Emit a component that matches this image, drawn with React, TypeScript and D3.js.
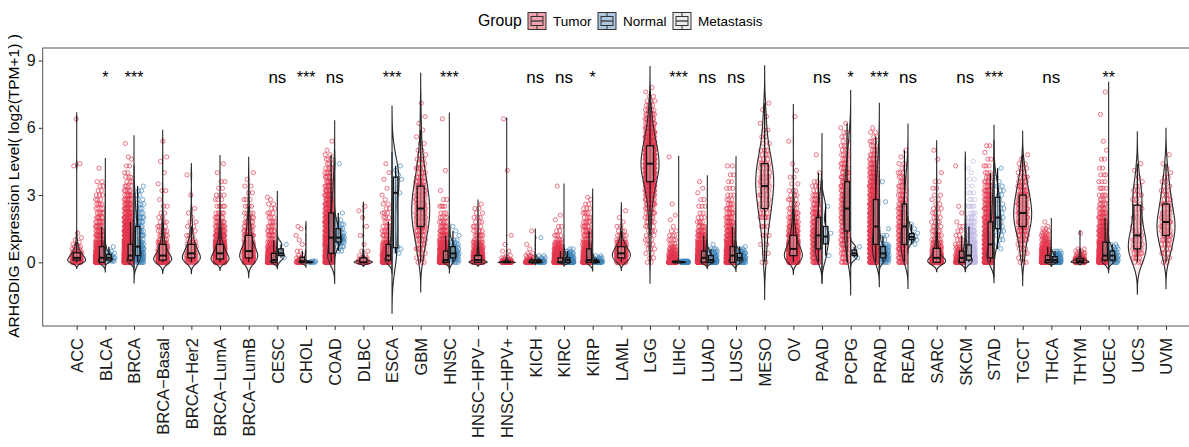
import React, { useRef, useEffect } from "react";
import * as d3 from "d3";

// each bin is [log2(TPM+1), number of samples at that value]
type Bin = [number, number];

const cancers = [
  "ACC", "BLCA", "BRCA", "BRCA−Basal", "BRCA−Her2", "BRCA−LumA", "BRCA−LumB", "CESC", "CHOL", "COAD",
  "DLBC", "ESCA", "GBM", "HNSC", "HNSC−HPV−", "HNSC−HPV+", "KICH", "KIRC", "KIRP", "LAML",
  "LGG", "LIHC", "LUAD", "LUSC", "MESO", "OV", "PAAD", "PCPG", "PRAD", "READ",
  "SARC", "SKCM", "STAD", "TGCT", "THCA", "THYM", "UCEC", "UCS", "UVM",
];

const tumorBins: Bin[][] = [
  // ACC
  [[0, 14], [0.1, 16], [0.2, 12], [0.3, 10], [0.4, 8], [0.5, 5], [0.6, 3], [0.7, 3], [0.8, 2], [0.9, 1], [1.0, 1], [1.1, 1], [1.3, 1], [4.3, 1], [4.4, 1], [6.4, 1]],
  // BLCA
  [[0, 110], [0.1, 60], [0.2, 40], [0.3, 30], [0.4, 22], [0.5, 18], [0.6, 15], [0.7, 12], [0.8, 10], [0.9, 8], [1.0, 8], [1.2, 12], [1.4, 10], [1.6, 8], [1.8, 7], [2.0, 6], [2.2, 5], [2.4, 4], [2.6, 4], [2.8, 3], [3.0, 3], [3.2, 2], [3.4, 2], [3.6, 2], [4.2, 1]],
  // BRCA
  [[0, 220], [0.1, 160], [0.2, 120], [0.3, 90], [0.4, 70], [0.5, 55], [0.6, 45], [0.7, 40], [0.8, 35], [0.9, 30], [1.0, 26], [1.2, 40], [1.4, 35], [1.6, 28], [1.8, 22], [2.0, 18], [2.2, 14], [2.4, 12], [2.6, 10], [2.8, 8], [3.0, 7], [3.2, 5], [3.4, 4], [3.6, 3], [3.8, 3], [4.0, 2], [4.3, 2], [4.6, 1], [4.7, 1], [5.3, 1]],
  // BRCA-Basal
  [[0, 30], [0.1, 30], [0.2, 25], [0.3, 18], [0.4, 14], [0.5, 11], [0.6, 9], [0.7, 8], [0.8, 7], [0.9, 6], [1.0, 5], [1.2, 6], [1.4, 5], [1.6, 4], [1.8, 3], [2.0, 2], [2.2, 2], [2.5, 2], [2.8, 1], [3.2, 2], [3.5, 1], [4.0, 1], [4.5, 1], [4.7, 1], [5.4, 1]],
  // BRCA-Her2
  [[0, 8], [0.1, 9], [0.2, 10], [0.3, 8], [0.4, 7], [0.5, 6], [0.6, 5], [0.7, 4], [0.8, 4], [0.9, 3], [1.0, 3], [1.2, 3], [1.4, 2], [1.6, 2], [1.8, 2], [2.0, 1], [2.2, 1], [2.4, 1], [3.0, 1], [3.9, 1]],
  // BRCA-LumA
  [[0, 70], [0.1, 75], [0.2, 70], [0.3, 60], [0.4, 50], [0.5, 42], [0.6, 35], [0.7, 30], [0.8, 25], [0.9, 20], [1.0, 17], [1.2, 22], [1.4, 15], [1.6, 12], [1.8, 8], [2.0, 6], [2.2, 5], [2.5, 5], [2.8, 3], [3.0, 3], [3.3, 2], [3.6, 2], [4.0, 1], [4.4, 1]],
  // BRCA-LumB
  [[0, 18], [0.1, 20], [0.2, 22], [0.3, 20], [0.4, 18], [0.5, 15], [0.6, 13], [0.7, 11], [0.8, 10], [0.9, 9], [1.0, 8], [1.2, 12], [1.4, 9], [1.6, 7], [1.8, 6], [2.0, 5], [2.2, 4], [2.5, 4], [2.8, 3], [3.1, 2], [3.4, 2], [3.7, 1], [4.0, 1]],
  // CESC
  [[0, 120], [0.1, 55], [0.2, 32], [0.3, 20], [0.4, 15], [0.5, 12], [0.6, 10], [0.7, 8], [0.8, 6], [0.9, 5], [1.0, 5], [1.2, 7], [1.4, 6], [1.6, 5], [1.8, 4], [2.0, 3], [2.2, 3], [2.4, 2], [2.6, 2], [2.8, 1], [2.9, 1]],
  // CHOL
  [[0, 14], [0.05, 6], [0.1, 4], [0.2, 3], [0.3, 2], [0.5, 2], [0.8, 1], [1.0, 1], [1.2, 1], [1.5, 1], [1.6, 1]],
  // COAD
  [[0, 40], [0.1, 25], [0.2, 20], [0.3, 18], [0.4, 17], [0.5, 16], [0.6, 16], [0.7, 16], [0.8, 16], [0.9, 16], [1.0, 16], [1.1, 15], [1.2, 15], [1.4, 28], [1.6, 26], [1.8, 22], [2.0, 20], [2.2, 18], [2.4, 16], [2.6, 14], [2.8, 12], [3.0, 10], [3.2, 9], [3.4, 8], [3.6, 7], [3.8, 6], [4.0, 5], [4.2, 4], [4.4, 3], [4.6, 3], [4.8, 2], [5.0, 1], [5.4, 1]],
  // DLBC
  [[0, 25], [0.05, 6], [0.1, 4], [0.2, 3], [0.3, 2], [0.5, 2], [0.8, 1], [1.2, 1], [1.6, 1], [2.0, 1], [2.3, 1], [2.5, 1]],
  // ESCA
  [[0, 35], [0.1, 25], [0.2, 20], [0.3, 15], [0.4, 12], [0.5, 10], [0.6, 8], [0.7, 7], [0.8, 6], [0.9, 5], [1.0, 5], [1.2, 6], [1.4, 5], [1.6, 4], [1.8, 3], [2.0, 3], [2.2, 3], [2.4, 2], [2.6, 2], [2.8, 1], [3.0, 1], [3.3, 1], [3.7, 1], [4.0, 1], [4.4, 1]],
  // GBM
  [[0, 3], [0.2, 3], [0.4, 3], [0.6, 4], [0.8, 4], [1.0, 5], [1.2, 6], [1.4, 7], [1.6, 8], [1.8, 8], [2.0, 9], [2.2, 9], [2.4, 9], [2.6, 9], [2.8, 8], [3.0, 8], [3.2, 7], [3.4, 7], [3.6, 6], [3.8, 5], [4.0, 4], [4.2, 4], [4.4, 3], [4.6, 3], [4.8, 2], [5.0, 2], [5.3, 2], [5.6, 1], [5.9, 1], [6.2, 1], [6.5, 1], [7.1, 1]],
  // HNSC
  [[0, 192], [0.1, 80], [0.2, 50], [0.3, 35], [0.4, 28], [0.5, 22], [0.6, 18], [0.7, 15], [0.8, 12], [0.9, 10], [1.0, 9], [1.2, 12], [1.4, 9], [1.6, 7], [1.8, 5], [2.0, 4], [2.2, 3], [2.5, 4], [2.8, 2], [3.2, 1], [4.1, 1], [6.4, 1]],
  // HNSC-HPV-
  [[0, 190], [0.1, 70], [0.2, 40], [0.3, 25], [0.4, 18], [0.5, 14], [0.6, 11], [0.7, 9], [0.8, 7], [0.9, 6], [1.0, 5], [1.2, 7], [1.4, 5], [1.6, 4], [1.8, 3], [2.0, 3], [2.2, 2], [2.4, 2], [2.6, 1]],
  // HNSC-HPV+
  [[0, 45], [0.02, 18], [0.04, 12], [0.08, 8], [0.12, 5], [0.2, 3], [0.3, 2], [0.5, 2], [0.8, 1], [1.2, 1], [4.1, 1], [6.4, 1]],
  // KICH
  [[0, 40], [0.05, 8], [0.1, 6], [0.2, 4], [0.3, 3], [0.4, 2], [0.6, 1], [0.8, 1], [1.4, 1]],
  // KIRC
  [[0, 300], [0.1, 80], [0.2, 45], [0.3, 30], [0.4, 20], [0.5, 15], [0.6, 10], [0.7, 8], [0.8, 6], [0.9, 4], [1.0, 4], [1.2, 4], [1.4, 2], [1.6, 2], [1.9, 1], [2.1, 1], [3.4, 1]],
  // KIRP
  [[0, 110], [0.1, 35], [0.2, 25], [0.3, 18], [0.4, 14], [0.5, 11], [0.6, 9], [0.7, 8], [0.8, 7], [0.9, 6], [1.0, 5], [1.2, 8], [1.4, 7], [1.6, 6], [1.8, 5], [2.0, 4], [2.2, 4], [2.4, 3], [2.6, 2], [2.8, 1], [2.9, 1]],
  // LAML
  [[0, 14], [0.1, 16], [0.2, 20], [0.3, 22], [0.4, 22], [0.5, 18], [0.6, 15], [0.7, 12], [0.8, 9], [0.9, 7], [1.0, 5], [1.2, 5], [1.4, 3], [1.6, 2], [1.8, 1], [2.0, 1], [2.3, 1]],
  // LGG
  [[0, 2], [0.2, 2], [0.4, 2], [0.6, 3], [0.8, 3], [1.0, 3], [1.2, 3], [1.4, 4], [1.6, 4], [1.8, 5], [2.0, 5], [2.2, 6], [2.4, 7], [2.6, 9], [2.8, 11], [3.0, 13], [3.2, 16], [3.4, 20], [3.6, 24], [3.8, 28], [4.0, 31], [4.2, 33], [4.4, 34], [4.6, 33], [4.8, 31], [5.0, 28], [5.2, 25], [5.4, 22], [5.6, 18], [5.8, 15], [6.0, 12], [6.2, 10], [6.4, 8], [6.6, 7], [6.8, 5], [7.0, 4], [7.2, 3], [7.4, 2], [7.6, 1], [7.8, 1]],
  // LIHC
  [[0, 250], [0.05, 30], [0.1, 20], [0.2, 15], [0.3, 12], [0.4, 9], [0.5, 7], [0.6, 5], [0.7, 4], [0.8, 3], [1.0, 4], [1.2, 3], [1.4, 2], [1.6, 1], [1.9, 1], [2.1, 1], [2.6, 1], [4.7, 1]],
  // LUAD
  [[0, 170], [0.1, 80], [0.2, 55], [0.3, 40], [0.4, 30], [0.5, 25], [0.6, 20], [0.7, 16], [0.8, 13], [0.9, 11], [1.0, 9], [1.2, 14], [1.4, 9], [1.6, 6], [1.8, 4], [2.0, 3], [2.2, 2], [2.5, 3], [2.8, 2], [3.1, 1], [3.3, 1], [3.6, 1]],
  // LUSC
  [[0, 140], [0.1, 60], [0.2, 45], [0.3, 35], [0.4, 30], [0.5, 25], [0.6, 21], [0.7, 18], [0.8, 15], [0.9, 13], [1.0, 11], [1.2, 17], [1.4, 13], [1.6, 10], [1.8, 8], [2.0, 7], [2.2, 6], [2.4, 5], [2.6, 4], [2.8, 3], [3.0, 3], [3.3, 3], [3.6, 2], [3.9, 2], [4.3, 2]],
  // MESO
  [[0, 2], [0.4, 2], [0.8, 2], [1.2, 3], [1.6, 3], [2.0, 5], [2.2, 3], [2.4, 3], [2.6, 3], [2.8, 4], [3.0, 4], [3.2, 4], [3.4, 5], [3.6, 5], [3.8, 5], [4.0, 4], [4.2, 4], [4.4, 4], [4.6, 3], [4.8, 3], [5.0, 3], [5.3, 2], [5.6, 2], [5.9, 2], [6.2, 1], [6.5, 1], [6.8, 1], [7.1, 1]],
  // OV
  [[0, 30], [0.1, 35], [0.2, 38], [0.3, 38], [0.4, 35], [0.5, 32], [0.6, 28], [0.7, 25], [0.8, 22], [0.9, 19], [1.0, 16], [1.2, 24], [1.4, 18], [1.6, 14], [1.8, 10], [2.0, 8], [2.2, 6], [2.4, 5], [2.6, 4], [2.8, 4], [3.0, 3], [3.2, 3], [3.5, 2], [3.8, 2], [4.1, 1], [4.4, 1], [5.4, 1], [6.5, 1]],
  // PAAD
  [[0, 12], [0.2, 12], [0.4, 13], [0.6, 14], [0.8, 14], [1.0, 14], [1.2, 13], [1.4, 12], [1.6, 11], [1.8, 10], [2.0, 9], [2.2, 8], [2.4, 7], [2.6, 6], [2.8, 5], [3.0, 4], [3.2, 3], [3.4, 3], [3.6, 2], [4.0, 1], [4.8, 1]],
  // PCPG
  [[0, 6], [0.2, 5], [0.4, 5], [0.6, 6], [0.8, 6], [1.0, 7], [1.2, 7], [1.4, 8], [1.6, 8], [1.8, 8], [2.0, 8], [2.2, 8], [2.4, 8], [2.6, 8], [2.8, 8], [3.0, 8], [3.2, 7], [3.4, 7], [3.6, 7], [3.8, 6], [4.0, 6], [4.2, 5], [4.4, 5], [4.6, 4], [4.8, 4], [5.0, 3], [5.2, 3], [5.4, 2], [5.6, 2], [5.8, 2], [6.0, 1], [6.2, 1]],
  // PRAD
  [[0, 30], [0.2, 28], [0.4, 30], [0.6, 32], [0.8, 32], [1.0, 30], [1.2, 28], [1.4, 26], [1.6, 24], [1.8, 23], [2.0, 22], [2.2, 20], [2.4, 19], [2.6, 18], [2.8, 17], [3.0, 16], [3.2, 15], [3.4, 14], [3.6, 13], [3.8, 11], [4.0, 10], [4.2, 8], [4.4, 7], [4.6, 6], [4.8, 5], [5.0, 4], [5.2, 3], [5.4, 3], [5.6, 2], [5.8, 2], [6.0, 1]],
  // READ
  [[0, 10], [0.2, 9], [0.4, 10], [0.6, 11], [0.8, 11], [1.0, 11], [1.2, 10], [1.4, 10], [1.6, 9], [1.8, 9], [2.0, 8], [2.2, 8], [2.4, 7], [2.6, 6], [2.8, 6], [3.0, 5], [3.2, 5], [3.4, 4], [3.6, 4], [3.8, 3], [4.0, 3], [4.2, 2], [4.4, 2], [4.7, 1], [5.0, 1]],
  // SARC
  [[0, 80], [0.1, 35], [0.2, 25], [0.3, 18], [0.4, 14], [0.5, 11], [0.6, 9], [0.7, 7], [0.8, 6], [0.9, 5], [1.0, 5], [1.2, 6], [1.4, 5], [1.6, 4], [1.8, 4], [2.0, 3], [2.2, 3], [2.4, 3], [2.6, 2], [2.8, 2], [3.0, 2], [3.3, 2], [3.6, 2], [4.0, 1], [4.6, 1], [5.0, 1]],
  // SKCM
  [[0, 35], [0.1, 15], [0.2, 10], [0.3, 8], [0.4, 6], [0.5, 5], [0.6, 4], [0.7, 3], [0.8, 3], [1.0, 3], [1.2, 2], [1.4, 2], [1.6, 2], [1.8, 1], [2.2, 1], [2.5, 1], [4.3, 1]],
  // STAD
  [[0, 60], [0.2, 48], [0.4, 42], [0.6, 36], [0.8, 31], [1.0, 27], [1.2, 23], [1.4, 20], [1.6, 18], [1.8, 16], [2.0, 14], [2.2, 12], [2.4, 11], [2.6, 10], [2.8, 9], [3.0, 8], [3.2, 7], [3.4, 6], [3.6, 5], [3.8, 4], [4.0, 3], [4.3, 3], [4.6, 2], [4.9, 1], [5.2, 2]],
  // TGCT
  [[0, 3], [0.2, 2], [0.4, 3], [0.6, 3], [0.8, 4], [1.0, 5], [1.2, 6], [1.4, 8], [1.6, 9], [1.8, 10], [2.0, 11], [2.2, 11], [2.4, 10], [2.6, 10], [2.8, 9], [3.0, 8], [3.2, 7], [3.4, 6], [3.6, 5], [3.8, 4], [4.0, 3], [4.2, 3], [4.4, 2], [4.6, 1], [4.8, 1]],
  // THCA
  [[0, 230], [0.1, 90], [0.2, 55], [0.3, 35], [0.4, 25], [0.5, 18], [0.6, 13], [0.7, 10], [0.8, 8], [0.9, 6], [1.0, 5], [1.1, 4], [1.2, 4], [1.3, 3], [1.4, 2], [1.5, 2], [1.6, 1], [1.8, 1]],
  // THYM
  [[0, 40], [0.05, 25], [0.1, 18], [0.15, 12], [0.2, 8], [0.3, 6], [0.4, 4], [0.5, 3], [0.6, 2], [1.3, 1]],
  // UCEC
  [[0, 120], [0.1, 65], [0.2, 50], [0.3, 40], [0.4, 33], [0.5, 27], [0.6, 23], [0.7, 20], [0.8, 18], [0.9, 16], [1.0, 14], [1.2, 22], [1.4, 18], [1.6, 14], [1.8, 11], [2.0, 9], [2.2, 8], [2.4, 6], [2.6, 5], [2.8, 4], [3.0, 4], [3.3, 4], [3.6, 3], [3.9, 3], [4.2, 2], [4.6, 2], [5.0, 1], [5.4, 1], [6.6, 1], [7.6, 1]],
  // UCS
  [[0, 3], [0.2, 4], [0.4, 5], [0.6, 5], [0.8, 5], [1.0, 4], [1.2, 4], [1.4, 3], [1.6, 2], [1.8, 2], [2.0, 2], [2.2, 2], [2.4, 2], [2.6, 2], [2.8, 2], [3.0, 3], [3.2, 2], [3.4, 2], [3.6, 1], [3.8, 1], [4.1, 1], [4.4, 1]],
  // UVM
  [[0, 2], [0.2, 2], [0.4, 3], [0.6, 3], [0.8, 4], [1.0, 5], [1.2, 5], [1.4, 6], [1.6, 6], [1.8, 6], [2.0, 5], [2.2, 5], [2.4, 4], [2.6, 4], [2.8, 3], [3.0, 3], [3.2, 3], [3.4, 2], [3.6, 2], [3.8, 2], [4.0, 1], [4.2, 1], [4.4, 1], [4.8, 1]],
];

// normal tissue, same order as cancers (null = no normal samples)
const normalBins: (Bin[] | null)[] = [
  null,
  [[0.05, 3], [0.1, 4], [0.2, 4], [0.3, 3], [0.4, 2], [0.5, 2], [0.7, 1]],
  [[0, 8], [0.1, 8], [0.2, 9], [0.3, 9], [0.4, 8], [0.5, 7], [0.6, 6], [0.7, 5], [0.8, 5], [0.9, 4], [1.0, 4], [1.2, 6], [1.4, 6], [1.6, 6], [1.8, 5], [2.0, 5], [2.2, 4], [2.4, 3], [2.6, 3], [2.8, 2], [3.0, 2], [3.2, 2], [3.4, 1]],
  null, null, null, null,
  [[0.2, 1], [0.4, 1], [0.8, 1]],
  [[0, 5], [0.03, 2], [0.06, 2]],
  [[0.5, 2], [0.7, 4], [0.9, 6], [1.0, 5], [1.1, 5], [1.2, 4], [1.3, 3], [1.5, 4], [1.7, 4], [1.9, 2], [2.2, 1], [4.4, 1]],
  null,
  [[0.4, 1], [0.5, 1], [0.6, 1], [0.7, 1], [2.8, 1], [3.1, 1], [3.3, 1], [3.7, 1], [3.9, 1], [4.1, 1], [4.3, 1]],
  null,
  [[0, 4], [0.1, 4], [0.2, 5], [0.3, 5], [0.4, 5], [0.5, 4], [0.6, 4], [0.7, 3], [0.8, 3], [0.9, 2], [1.0, 2], [1.2, 1], [1.4, 1], [1.6, 1]],
  null, null,
  [[0, 10], [0.05, 5], [0.1, 4], [0.2, 3], [0.3, 2], [1.1, 1]],
  [[0, 30], [0.1, 15], [0.2, 10], [0.3, 7], [0.4, 5], [0.5, 3], [0.6, 2]],
  [[0, 15], [0.05, 6], [0.1, 5], [0.2, 4], [0.3, 2]],
  null, null,
  [[0, 35], [0.03, 10], [0.06, 5]],
  [[0, 18], [0.1, 12], [0.2, 9], [0.3, 7], [0.4, 5], [0.5, 4], [0.6, 3], [0.8, 1]],
  [[0, 10], [0.1, 10], [0.2, 9], [0.3, 7], [0.4, 6], [0.5, 4], [0.6, 3], [0.7, 1]],
  null, null,
  [[0.3, 1], [1.0, 1], [1.3, 1], [2.5, 1]],
  [[0.2, 1], [0.4, 1], [0.7, 1]],
  [[0, 5], [0.1, 5], [0.2, 6], [0.3, 6], [0.4, 6], [0.5, 5], [0.6, 5], [0.7, 4], [0.8, 3], [1.0, 2], [1.2, 2], [1.5, 1], [2.7, 1], [3.6, 1]],
  [[0.8, 1], [0.95, 1], [1.0, 1], [1.05, 1], [1.1, 1], [1.15, 1], [1.25, 1], [1.3, 1], [1.5, 1], [1.7, 1]],
  null, null,
  [[0.6, 1], [0.8, 1], [1.0, 2], [1.2, 2], [1.4, 3], [1.6, 3], [1.8, 3], [2.0, 3], [2.2, 2], [2.4, 2], [2.6, 2], [2.8, 2], [3.0, 2], [3.2, 2], [3.4, 2], [3.6, 1], [3.8, 1], [4.2, 1]],
  null,
  [[0, 20], [0.1, 14], [0.2, 10], [0.3, 7], [0.4, 5], [0.5, 3]],
  null,
  [[0, 6], [0.1, 5], [0.2, 5], [0.3, 5], [0.4, 4], [0.5, 3], [0.6, 3], [0.7, 2], [0.8, 2]],
  null, null,
];

// SKCM is the only cancer with metastatic samples
const metastasisCancer = "SKCM";
const metastasisBins: Bin[] = [[0, 90], [0.1, 50], [0.2, 35], [0.3, 28], [0.4, 22], [0.5, 18], [0.6, 15], [0.7, 13], [0.8, 11], [0.9, 9], [1.0, 8], [1.2, 12], [1.4, 10], [1.6, 8], [1.8, 6], [2.0, 5], [2.2, 4], [2.5, 5], [2.8, 3], [3.1, 3], [3.4, 2], [3.7, 2], [4.0, 1], [4.2, 1], [4.5, 1]];

const sigLabels = [
  "", "*", "***", "", "", "", "", "ns", "***", "ns",
  "", "***", "", "***", "", "", "ns", "ns", "*", "",
  "", "***", "ns", "ns", "", "", "ns", "*", "***", "ns",
  "", "ns", "***", "", "ns", "", "**", "", "",
];

const yTicks = [0, 3, 6, 9];
const groups = ["Tumor", "Normal", "Metastasis"];

const W = 1189;
const H = 447;
const FONT = "'Liberation Sans', Arial, Helvetica, sans-serif";
const pointCol: Record<string, string> = { Tumor: "#E3374F", Normal: "#3F84BA", Metastasis: "#C2B9E4" };
const keyCol: Record<string, string> = { Tumor: "#F2A2AC", Normal: "#ADC8DE", Metastasis: "#ECECEC" };

const expand = (bins: Bin[]) => {
  const out: number[] = [];
  bins.forEach(([v, n]) => { for (let i = 0; i < n; i++) out.push(v); });
  return out.sort((a, b) => a - b);
};

// R's bw.nrd0
const bwNrd0 = (x: number[]) => {
  const sd = d3.deviation(x) || 0;
  const iqr = (d3.quantileSorted(x, 0.75) as number) - (d3.quantileSorted(x, 0.25) as number);
  let lo = Math.min(sd, iqr / 1.34);
  if (!lo) lo = sd || Math.abs(x[0]) || 1;
  return 0.9 * lo * Math.pow(x.length, -0.2);
};

// gaussian kde like geom_violin (trim = FALSE, cut = 3)
const density = (bins: Bin[], x: number[]) => {
  const bw = bwNrd0(x);
  const n = x.length;
  const lo = x[0] - 3 * bw;
  const hi = x[n - 1] + 3 * bw;
  return d3.range(257).map((i) => {
    const g = lo + ((hi - lo) * i) / 256;
    const d = d3.sum(bins, ([v, c]) => c * Math.exp(-0.5 * ((g - v) / bw) ** 2)) / (n * bw * Math.sqrt(2 * Math.PI));
    return [g, d] as [number, number];
  });
};

const boxStats = (x: number[]) => {
  const q1 = d3.quantileSorted(x, 0.25) as number;
  const med = d3.quantileSorted(x, 0.5) as number;
  const q3 = d3.quantileSorted(x, 0.75) as number;
  const iqr = q3 - q1;
  const lo = d3.min(x.filter((v) => v >= q1 - 1.5 * iqr)) as number;
  const hi = d3.max(x.filter((v) => v <= q3 + 1.5 * iqr)) as number;
  return { q1, med, q3, lo, hi };
};

const App = () => {
  const ref = useRef<SVGSVGElement>(null);

  useEffect(() => {
    const svg = d3.select(ref.current);
    svg.selectAll("*").remove();

    const x = d3.scalePoint<string>().domain(cancers).range([76.7, 1166]);
    const y = d3.scaleLinear().domain([-2.84, 9.56]).range([326, 48]);
    const line = d3.line<[number, number]>();

    // collect every group drawn in each category
    const sets = cancers.map((c, i) => {
      const list: { group: string; bins: Bin[]; side: number }[] = [];
      const second = c === metastasisCancer ? metastasisBins : normalBins[i];
      const secondGroup = c === metastasisCancer ? "Metastasis" : "Normal";
      list.push({ group: "Tumor", bins: tumorBins[i], side: second ? -1 : 0 });
      if (second) list.push({ group: secondGroup, bins: second, side: 1 });
      return list.map((s) => {
        const vals = expand(s.bins);
        return { ...s, vals, dens: density(s.bins, vals), box: boxStats(vals) };
      });
    });

    const gPts = svg.append("g");
    const gViol = svg.append("g");
    const gBox = svg.append("g");

    sets.forEach((list, i) => {
      const cx = x(cancers[i]) as number;
      list.forEach((s) => {
        // jittered points
        const x0 = s.side === 0 ? -5 : s.side < 0 ? -10 : 2;
        const span = s.side === 0 ? 10 : 8;
        gPts.selectAll(null)
          .data(s.vals)
          .enter()
          .append("circle")
          .attr("cx", (_, j) => cx + x0 + (((j + 1) * 0.618034) % 1) * span)
          .attr("cy", (v) => y(v))
          .attr("r", 2.1)
          .attr("fill", "none")
          .attr("stroke", pointCol[s.group])
          .attr("stroke-width", 0.8)
          .attr("stroke-opacity", 0.85);

        // violin (full when alone, half when split)
        const maxD = d3.max(s.dens, (d) => d[1]) as number;
        const half = s.side === 0 ? 9 : 7;
        const k = half / maxD;
        let path: string;
        if (s.side === 0) {
          const left = s.dens.map(([v, d]) => [cx - d * k, y(v)] as [number, number]);
          const right = s.dens.slice().reverse().map(([v, d]) => [cx + d * k, y(v)] as [number, number]);
          path = line([...left, ...right]) + "Z";
        } else {
          const pts: [number, number][] = [[cx, y(s.dens[0][0])]];
          s.dens.forEach(([v, d]) => pts.push([cx + s.side * d * k, y(v)]));
          pts.push([cx, y(s.dens[s.dens.length - 1][0])]);
          path = line(pts) + "Z";
        }
        gViol.append("path")
          .attr("d", path)
          .attr("fill", pointCol[s.group])
          .attr("fill-opacity", 0.1)
          .attr("stroke", "#2b2b2b")
          .attr("stroke-width", 1.1);

        // boxplot
        const bw = s.side === 0 ? 7 : 4.6;
        const bx = s.side === 0 ? cx : cx + s.side * 3.6;
        const b = s.box;
        gBox.append("line")
          .attr("x1", bx).attr("x2", bx)
          .attr("y1", y(b.lo)).attr("y2", y(b.hi))
          .attr("stroke", "#111").attr("stroke-width", 1.2);
        gBox.append("rect")
          .attr("x", bx - bw / 2).attr("width", bw)
          .attr("y", y(b.q3)).attr("height", Math.max(0.5, y(b.q1) - y(b.q3)))
          .attr("fill", keyCol[s.group]).attr("fill-opacity", 0.55)
          .attr("stroke", "#111").attr("stroke-width", 1.3);
        gBox.append("line")
          .attr("x1", bx - bw / 2).attr("x2", bx + bw / 2)
          .attr("y1", y(b.med)).attr("y2", y(b.med))
          .attr("stroke", "#111").attr("stroke-width", 2);
      });
    });

    // panel border
    svg.append("rect")
      .attr("x", 42.7).attr("y", 48)
      .attr("width", 1200 - 42.7).attr("height", 278)
      .attr("fill", "none").attr("stroke", "#555").attr("stroke-width", 1);

    // y axis
    const ya = svg.append("g")
      .attr("transform", "translate(42.7,0)")
      .call(d3.axisLeft(y).tickValues(yTicks).tickSize(4).tickPadding(3));
    ya.select(".domain").remove();
    ya.selectAll("line").attr("stroke", "#333");
    ya.selectAll("text").attr("font-size", 16).attr("font-family", FONT).attr("fill", "#1a1a1a");

    // x axis
    const xa = svg.append("g")
      .attr("transform", "translate(0,326)")
      .call(d3.axisBottom(x).tickSize(4));
    xa.select(".domain").remove();
    xa.selectAll("line").attr("stroke", "#333");
    xa.selectAll("text")
      .attr("transform", "rotate(-90)")
      .attr("text-anchor", "end")
      .attr("x", -12)
      .attr("y", 0)
      .attr("dy", "0.36em")
      .attr("font-size", 16.5)
      .attr("font-family", FONT)
      .attr("fill", "#1a1a1a");

    // y title
    svg.append("text")
      .attr("transform", "translate(19,186) rotate(-90)")
      .attr("text-anchor", "middle")
      .attr("font-size", 15.5)
      .attr("font-family", FONT)
      .text("ARHGDIG Expression Level( log2(TPM+1) )");

    // significance labels
    svg.append("g")
      .selectAll("text")
      .data(cancers)
      .enter()
      .append("text")
      .attr("x", (d) => x(d) as number)
      .attr("y", 83)
      .attr("text-anchor", "middle")
      .attr("font-family", FONT)
      .attr("font-size", (_, i) => (sigLabels[i] === "ns" ? 17 : 16))
      .text((_, i) => sigLabels[i]);

    // legend
    const lg = svg.append("g").attr("font-family", FONT);
    lg.append("text").attr("x", 478).attr("y", 26).attr("font-size", 15.8).text("Group");
    const keyX = [528, 598, 673];
    groups.forEach((gname, i) => {
      const kx = keyX[i];
      const ky = 12.5;
      lg.append("rect")
        .attr("x", kx).attr("y", ky).attr("width", 18).attr("height", 17)
        .attr("fill", keyCol[gname]).attr("stroke", "#333").attr("stroke-width", 1);
      lg.append("rect")
        .attr("x", kx + 3).attr("y", ky + 4).attr("width", 12).attr("height", 9)
        .attr("fill", "none").attr("stroke", "#333").attr("stroke-width", 1);
      lg.append("line")
        .attr("x1", kx + 3).attr("x2", kx + 15).attr("y1", ky + 8.5).attr("y2", ky + 8.5)
        .attr("stroke", "#333").attr("stroke-width", 1.3);
      lg.append("line")
        .attr("x1", kx + 9).attr("x2", kx + 9).attr("y1", ky).attr("y2", ky + 4)
        .attr("stroke", "#333");
      lg.append("line")
        .attr("x1", kx + 9).attr("x2", kx + 9).attr("y1", ky + 13).attr("y2", ky + 17)
        .attr("stroke", "#333");
      lg.append("text")
        .attr("x", kx + 25).attr("y", 26)
        .attr("font-size", 13.5)
        .text(gname);
    });
  }, []);

  return (
    <svg
      ref={ref}
      width={W}
      height={H}
      style={{ position: "absolute", left: 0, top: 0, background: "#fff" }}
    />
  );
};

export default App;
